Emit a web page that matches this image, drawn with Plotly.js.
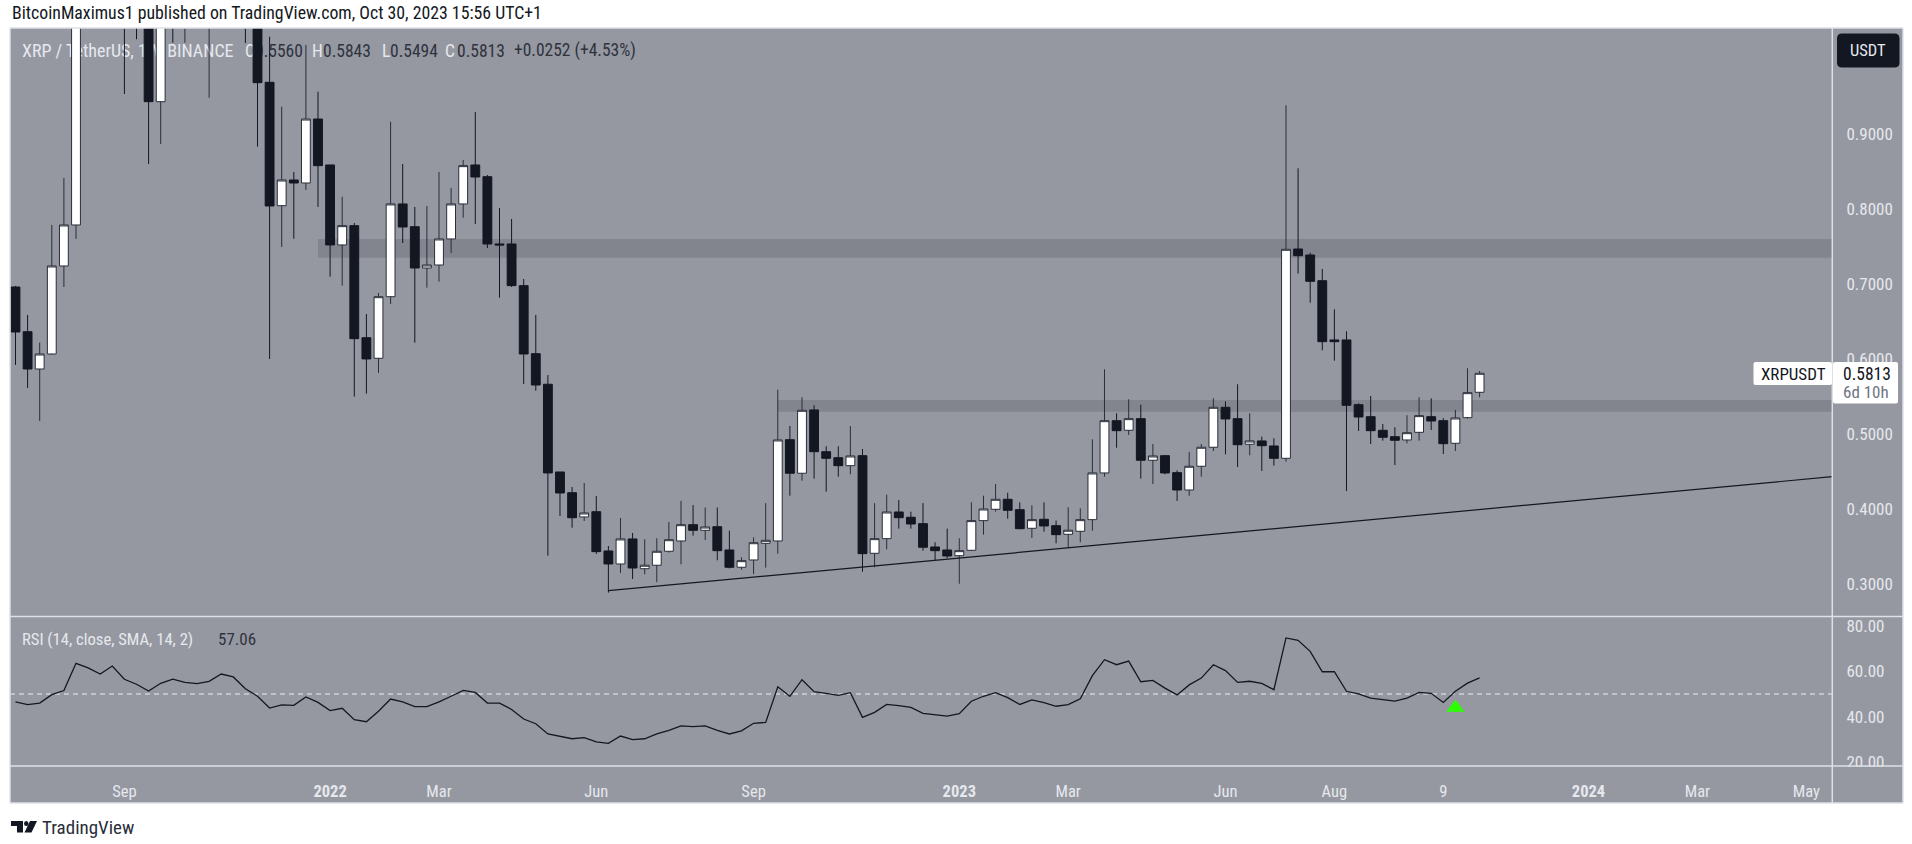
<!DOCTYPE html>
<html>
<head>
<meta charset="utf-8">
<script src="https://cdn.plot.ly/plotly-3.0.1.min.js"></script>
<style>html,body{margin:0;padding:0;background:#fff;overflow:hidden}#chart{width:1912px;height:844px}</style>
</head>
<body>
<div id="chart"></div>
<script>
const weeks = [
"2021-07-05","2021-07-12","2021-07-19","2021-07-26","2021-08-02","2021-08-09","2021-08-16","2021-08-23","2021-08-30","2021-09-06","2021-09-13","2021-09-20","2021-09-27","2021-10-04","2021-10-11","2021-10-18","2021-10-25","2021-11-01","2021-11-08","2021-11-15","2021-11-22","2021-11-29","2021-12-06","2021-12-13","2021-12-20","2021-12-27",
"2022-01-03","2022-01-10","2022-01-17","2022-01-24","2022-01-31","2022-02-07","2022-02-14","2022-02-21","2022-02-28","2022-03-07","2022-03-14","2022-03-21","2022-03-28","2022-04-04","2022-04-11","2022-04-18","2022-04-25","2022-05-02","2022-05-09","2022-05-16","2022-05-23","2022-05-30","2022-06-06","2022-06-13","2022-06-20","2022-06-27","2022-07-04","2022-07-11","2022-07-18","2022-07-25","2022-08-01","2022-08-08","2022-08-15","2022-08-22","2022-08-29","2022-09-05","2022-09-12","2022-09-19","2022-09-26","2022-10-03","2022-10-10","2022-10-17","2022-10-24","2022-10-31","2022-11-07","2022-11-14","2022-11-21","2022-11-28","2022-12-05","2022-12-12","2022-12-19","2022-12-26",
"2023-01-02","2023-01-09","2023-01-16","2023-01-23","2023-01-30","2023-02-06","2023-02-13","2023-02-20","2023-02-27","2023-03-06","2023-03-13","2023-03-20","2023-03-27","2023-04-03","2023-04-10","2023-04-17","2023-04-24","2023-05-01","2023-05-08","2023-05-15","2023-05-22","2023-05-29","2023-06-05","2023-06-12","2023-06-19","2023-06-26","2023-07-03","2023-07-10","2023-07-17","2023-07-24","2023-07-31","2023-08-07","2023-08-14","2023-08-21","2023-08-28","2023-09-04","2023-09-11","2023-09-18","2023-09-25","2023-10-02","2023-10-09","2023-10-16","2023-10-23","2023-10-30"];

const opens = [.6962,.6367,.5870,.6070,.7242,.7788,1.23,1.20,1.10,1.24,1.09,1.08,.9430,1.10,1.09,1.15,1.12,1.19,1.13,1.08,1.06,
.9688,.8045,.8387,.8347,.9199,.8587,.7522,.7779,.6287,.6013,.6833,.8068,.7765,.7215,.7255,.7602,.8068,.8587,.8431,.7535,.7535,.6980,.6074,.5667,.4499,.4223,.3900,.3970,.3447,.3274,.3607,.3211,.3257,.3443,.3580,.3797,.3722,.3770,.3460,.3230,.3327,.3549,.3580,.4929,.4482,.5325,.4769,.4689,.4583,.4716,.3416,.3611,.3966,.3896,.3811,.3500,.3460,.3384,.3456,.3851,.4002,.4135,.3997,.3749,.3869,.3784,.3669,.3709,.3864,.4486,.5182,.5054,.5209,.4655,.4716,.4490,.4259,.4575,.4828,.5360,.5209,.4868,.4912,.4845,.4681,.7468,.7388,.7046,.6257,.6257,.5395,.5235,.5054,.4969,.4925,.5027,.5235,.5182,.4881,.5222,.5560];
const highs = [.6976,.6590,.6221,.7788,.8414,1.30,1.41,1.24,1.30,1.35,1.16,1.12,1.15,1.14,1.22,1.20,1.35,1.25,1.16,1.12,1.07,
1.0295,.9363,.8494,1.0185,.9563,.8587,.8165,.7815,.6603,.6882,.9163,.8600,.8028,.8041,.8494,.8281,.8653,.9293,.8454,.8014,.7868,.7069,.6590,.5790,.4499,.4299,.4352,.4179,.3513,.3886,.3687,.3603,.3616,.3833,.4113,.4057,.4026,.4026,.3717,.3363,.3629,.4084,.5595,.5111,.5494,.5387,.4841,.4841,.5111,.4805,.4084,.4197,.4126,.3970,.4084,.3563,.3744,.3616,.4095,.4183,.4339,.4223,.4095,.4055,.4095,.3851,.4029,.4015,.4934,.5866,.5281,.5467,.5395,.4872,.4725,.4521,.4765,.4872,.5480,.5440,.5667,.5281,.4969,.4948,.9382,.8543,.7419,.7202,.6665,.6372,.5414,.5511,.5138,.5094,.5254,.5494,.5480,.5214,.5325,.5880,.5843];
const lows = [.5924,.5617,.5178,.6060,.6962,.7602,1.06,1.05,1.06,.9532,1.0261,.8600,.8866,1.0215,1.0215,1.06,.9483,1.08,1.05,1.0211,.8831,
.6004,.7495,.7605,.8254,.8028,.7099,.6980,.5502,.5542,.5817,.6736,.7548,.6221,.6953,.7033,.7415,.7885,.7801,.7482,.6820,.6962,.5671,.5581,.3384,.3913,.3757,.3846,.3407,.2892,.3154,.3074,.3137,.3030,.3425,.3270,.3651,.3593,.3323,.3215,.3198,.3140,.3225,.3411,.4183,.4383,.4410,.4237,.4436,.4468,.3171,.3230,.3470,.3744,.3744,.3451,.3327,.3350,.3011,.3447,.3664,.3970,.3877,.3736,.3620,.3704,.3549,.3491,.3563,.3717,.4436,.4822,.4992,.4410,.4339,.4468,.4113,.4183,.4436,.4778,.4734,.4565,.4721,.4512,.4583,.4636,.7140,.6753,.6119,.5981,.4246,.5045,.4872,.4916,.4592,.4881,.4916,.5058,.4738,.4778,.5210,.5494];
const closes = [.6363,.5870,.6070,.7242,.7788,1.23,1.20,1.10,1.24,1.09,1.08,.9430,1.10,1.09,1.15,1.12,1.19,1.13,1.08,1.06,.9683,
.8041,.8387,.8347,.9199,.8578,.7522,.7779,.6274,.6004,.6833,.8068,.7761,.7215,.7255,.7602,.8068,.8578,.8427,.7535,.7522,.6980,.6070,.5657,.4486,.4219,.3890,.3953,.3438,.3274,.3607,.3220,.3257,.3443,.3597,.3797,.3722,.3766,.3451,.3230,.3318,.3557,.3589,.4925,.4482,.5320,.4769,.4681,.4583,.4712,.3411,.3611,.3966,.3890,.3806,.3496,.3451,.3380,.3451,.3851,.4006,.4135,.3989,.3744,.3864,.3780,.3664,.3723,.3864,.4486,.5182,.5049,.5209,.4655,.4712,.4486,.4259,.4575,.4828,.5360,.5205,.4862,.4912,.4849,.4681,.7464,.7379,.7038,.6234,.6234,.5387,.5231,.5049,.4961,.4921,.5022,.5249,.5178,.4876,.5218,.5555,.5813];
const rsi = [46.5,45.3,46.0,49.7,51.5,63.5,61.5,58.8,62.3,56.5,54.3,51.3,54.7,56.5,55.1,54.6,55.6,58.8,57.5,52.3,49.0,43.8,45.2,45.0,48.7,46.3,42.7,43.7,38.7,37.8,42.4,47.8,46.5,44.4,44.4,46.5,49.0,51.6,50.7,46.0,46.0,43.2,39.0,36.9,32.4,31.5,30.3,30.8,28.9,28.3,31.5,29.9,30.3,32.4,34.0,36.0,35.6,36.0,34.0,32.4,33.8,37.1,37.5,53.2,49.0,56.3,51.0,50.3,49.4,50.6,39.7,41.9,45.4,44.9,44.1,41.5,41.0,40.3,41.3,46.8,49.0,50.6,48.4,45.4,47.4,46.2,44.6,45.3,47.9,58.1,65.1,62.9,64.5,55.4,56.0,52.6,49.6,54.0,57.0,62.9,60.3,55.1,55.6,54.7,51.9,74.7,73.6,68.8,59.8,59.8,51.2,50.1,48.2,47.5,46.9,48.2,50.7,50.3,46.3,51.2,54.8,57.06];

const timeTickVals = ["2021-09-06","2022-01-03","2022-03-07","2022-06-06","2022-09-05","2023-01-02","2023-03-06","2023-06-05","2023-08-07","2023-10-09","2024-01-01","2024-03-04","2024-05-06"];
const timeTickText = ["Sep","<b>2022</b>","Mar","Jun","Sep","<b>2023</b>","Mar","Jun","Aug","9","<b>2024</b>","Mar","May"];
const priceTicks = [0.3,0.4,0.5,0.6,0.7,0.8,0.9];
const rsiTicks = [20,40,60,80];

const upperZone = {start:"2021-12-27", low:0.7352, high:0.7600};
const lowerZone = {start:"2022-09-19", low:0.5302, high:0.5458};
const trendDates = ["2022-06-13","2024-05-20T21:00"];
const trendPrices = [0.2918,0.4436];
const rsiMid = 50;
const signalDate = ["2023-10-16"];
const signalRsi = [44];

const W = 1912, H = 844;
const X = p => p / W, Y = p => 1 - p / H;
const FONT = '"Liberation Sans Narrow","Roboto Condensed",Roboto,sans-serif';
const DARK = '#131722', LIGHT = '#e6e8ee', PANEL = '#9598a1', FRAME = '#dde0e7';

function rect(x0,y0,x1,y1,fill,layer){return {type:'rect',xref:'paper',yref:'paper',x0:X(x0),x1:X(x1),y0:Y(y0),y1:Y(y1),fillcolor:fill,line:{width:0},layer:layer||'below'};}
function hline(x0,x1,y){return {type:'line',xref:'paper',yref:'paper',x0:X(x0),x1:X(x1),y0:Y(y),y1:Y(y),line:{color:FRAME,width:1.5},layer:'above'};}
function vline(x,y0,y1){return {type:'line',xref:'paper',yref:'paper',x0:X(x),x1:X(x),y0:Y(y0),y1:Y(y1),line:{color:FRAME,width:1.5},layer:'above'};}
function round(x0,y0,x1,y1,r,fill){
  const p=(x,y)=>X(x)+','+Y(y);
  return {type:'path',xref:'paper',yref:'paper',fillcolor:fill,line:{width:0},layer:'above',
    path:'M'+p(x0+r,y0)+' L'+p(x1-r,y0)+' Q'+p(x1,y0)+' '+p(x1,y0+r)+' L'+p(x1,y1-r)+' Q'+p(x1,y1)+' '+p(x1-r,y1)+' L'+p(x0+r,y1)+' Q'+p(x0,y1)+' '+p(x0,y1-r)+' L'+p(x0,y0+r)+' Q'+p(x0,y0)+' '+p(x0+r,y0)+' Z'};
}
function poly(pts,fill){
  return {type:'path',xref:'paper',yref:'paper',fillcolor:fill,line:{width:0},layer:'above',
    path:'M'+pts.map(q=>X(q[0])+','+Y(q[1])).join(' L')+' Z'};
}
// legend text sits under the candles, as in the reference, so it is carried by below-layer shape labels
function under(x,y,text,color,size){
  return {type:'rect',xref:'paper',yref:'paper',x0:X(x),x1:X(x+300),y0:Y(y-10),y1:Y(y+10),
    fillcolor:'rgba(0,0,0,0)',line:{width:0},layer:'below',
    label:{text:text,textposition:'middle left',padding:0,font:{family:FONT,size:size||17.5,color:color}}};
}
function note(x,y,text,color,size,anchor){
  return {xref:'paper',yref:'paper',x:X(x),y:Y(y),text:text,showarrow:false,xanchor:anchor||'left',yanchor:'middle',
    font:{family:FONT,size:size||17,color:color}};
}

const traces = [
  {type:'candlestick',x:weeks,open:opens,high:highs,low:lows,close:closes,xaxis:'x',yaxis:'y',whiskerwidth:0,
   increasing:{line:{color:'#2a2e39',width:1},fillcolor:'#ffffff'},
   decreasing:{line:{color:DARK,width:1},fillcolor:DARK},hoverinfo:'skip'},
  {type:'scatter',mode:'lines',x:trendDates,y:trendPrices,xaxis:'x',yaxis:'y',line:{color:DARK,width:1.2},hoverinfo:'skip'},
  {type:'scatter',mode:'lines',x:weeks,y:rsi,xaxis:'x',yaxis:'y2',line:{color:DARK,width:1.3},hoverinfo:'skip'},
  {type:'scatter',mode:'markers',x:signalDate,y:signalRsi,xaxis:'x',yaxis:'y2',
   marker:{symbol:'triangle-up',size:16,color:'#2bff00',line:{width:0}},hoverinfo:'skip'}
];

const shapes = [
  rect(10,28,1903,803,PANEL),
  {type:'rect',xref:'x',yref:'y',x0:upperZone.start,x1:trendDates[1],y0:upperZone.low,y1:upperZone.high,fillcolor:'#82858e',line:{width:0},layer:'below'},
  {type:'rect',xref:'x',yref:'y',x0:lowerZone.start,x1:trendDates[1],y0:lowerZone.low,y1:lowerZone.high,fillcolor:'#82858e',line:{width:0},layer:'below'},
  {type:'line',xref:'paper',yref:'y2',x0:X(10),x1:X(1832),y0:rsiMid,y1:rsiMid,line:{color:'#eceef2',width:1,dash:'5px,4px'},layer:'below'},
  under(19,49,'XRP / TetherUS, 1W, BINANCE',LIGHT,18),
  under(242,49,'O',LIGHT),
  under(252,49,'0.5560','#2f333e'),
  under(309,49,'H',LIGHT),
  under(320,49,'0.5843','#2f333e'),
  under(379,49,'L',LIGHT),
  under(387,49,'0.5494','#2f333e'),
  under(442,49,'C',LIGHT),
  under(454,49,'0.5813','#2f333e'),
  under(511,49,'+0.0252 (+4.53%)','#2f333e'),
  rect(1833,767,1902,803,PANEL,'above'),
  hline(10,1903,28), hline(10,1903,616.5), hline(10,1903,766), hline(10,1903,803),
  vline(10,28,803), vline(1832.3,28,803), vline(1903,28,803),
  round(1837,33.5,1899.5,67.5,5,DARK),
  round(1753.5,362,1832,385,2,'#ffffff'),
  round(1833,362,1898,403.5,2,'#ffffff'),
  // TradingView mark
  poly([[11,821],[23,821],[23,832.5],[17,832.5],[17,826],[11,826]],DARK),
  {type:'circle',xref:'paper',yref:'paper',x0:X(24),x1:X(28.5),y0:Y(821),y1:Y(826),fillcolor:DARK,line:{width:0},layer:'above'},
  poly([[30,821],[37,821],[31.5,832.5],[24.5,832.5]],DARK)
];

const annotations = [
  note(9.5,13,'BitcoinMaximus1 published on TradingView.com, Oct 30, 2023 15:56 UTC+1',DARK,17.8),
  note(19.5,639,'RSI (14, close, SMA, 14, 2)',LIGHT,16.6),
  note(216,639,'57.06','#2f333e',17),
  note(1868,50,'USDT',LIGHT,16.5,'center'),
  note(1793,373.5,'XRPUSDT',DARK,17,'center'),
  note(1841,373.5,'0.5813',DARK,17.5),
  note(1841,392.5,'6d 10h','#6f7480',17),
  note(40,827,'TradingView','#2a2e39',19)
];

const layout = {
  width:W,height:H,margin:{l:0,r:0,t:0,b:0},autosize:false,showlegend:false,
  paper_bgcolor:'#ffffff',plot_bgcolor:'rgba(0,0,0,0)',
  boxgap:0.27,boxgroupgap:0,
  xaxis:{type:'date',domain:[X(10),X(1832)],range:["2021-07-01 19:40","2024-05-20 21:00"],anchor:'y2',
    rangeslider:{visible:false},showgrid:false,zeroline:false,showline:false,
    tickmode:'array',tickvals:timeTickVals,ticktext:timeTickText,ticks:'outside',ticklen:10,tickcolor:'rgba(0,0,0,0)',
    tickfont:{family:FONT,size:16.5,color:LIGHT}},
  yaxis:{domain:[Y(616),Y(28)],range:[0.2581,1.0411],anchor:'x',side:'right',showgrid:false,zeroline:false,showline:false,
    tickmode:'array',tickvals:priceTicks,tickformat:'.4f',ticks:'outside',ticklen:10,tickcolor:'rgba(0,0,0,0)',
    tickfont:{family:FONT,size:17,color:LIGHT}},
  yaxis2:{domain:[Y(766),Y(617)],range:[18.3,83.9],anchor:'x',side:'right',showgrid:false,zeroline:false,showline:false,
    tickmode:'array',tickvals:rsiTicks,tickformat:'.2f',ticks:'outside',ticklen:10,tickcolor:'rgba(0,0,0,0)',
    tickfont:{family:FONT,size:17,color:LIGHT}},
  shapes:shapes,annotations:annotations
};
Plotly.newPlot('chart',traces,layout,{staticPlot:true,displayModeBar:false});
</script>
</body>
</html>
